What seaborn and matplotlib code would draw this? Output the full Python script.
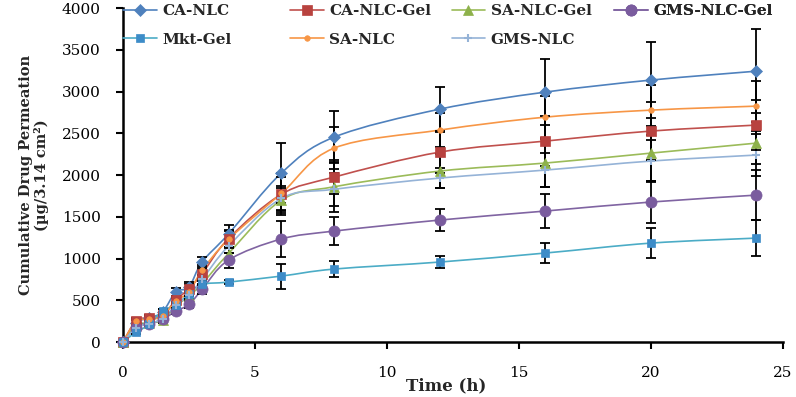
import numpy as np
import seaborn as sns
import matplotlib
matplotlib.use('Agg')
import matplotlib.pyplot as plt
from matplotlib.path import Path
from matplotlib.patches import PathPatch
from matplotlib.lines import Line2D

time_h = [0, 0.5, 1, 1.5, 2, 2.5, 3, 4, 6, 8, 12, 16, 20, 24]

ca_nlc = [0, 230, 290, 360, 600, 660, 960, 1295, 2024, 2455, 2790, 2994, 3138, 3245]
ca_nlc_err = [0, 30, 30, 30, 50, 60, 60, 105, 360, 310, 270, 400, 455, 500]
ca_nlc_gel = [0, 255, 290, 320, 500, 640, 820, 1240, 1770, 1976, 2275, 2407, 2527, 2599]
ca_nlc_gel_err = [0, 30, 30, 30, 40, 50, 60, 100, 250, 200, 250, 300, 350, 300]
sa_nlc_gel = [0, 200, 230, 260, 430, 550, 700, 1060, 1700, 1860, 2048, 2144, 2263, 2383]
sa_nlc_gel_err = [0, 25, 25, 30, 40, 40, 50, 80, 150, 300, 200, 290, 330, 250]
gms_nlc_gel = [0, 170, 220, 270, 370, 450, 630, 982, 1234, 1329, 1461, 1569, 1677, 1760]
gms_nlc_gel_err = [0, 20, 20, 30, 30, 40, 50, 90, 220, 170, 135, 200, 250, 300]
mkt_gel = [0, 120, 210, 375, 440, 580, 690, 718, 790, 874, 958, 1066, 1185, 1245]
mkt_gel_err = [0, 20, 20, 20, 30, 30, 40, 20, 150, 95, 75, 120, 180, 215]
sa_nlc = [0, 250, 270, 310, 490, 600, 860, 1230, 1780, 2323, 2539, 2694, 2778, 2826]
sa_nlc_err = [0, 30, 30, 30, 40, 50, 60, 100, 200, 250, 200, 250, 300, 300]
gms_nlc = [0, 170, 220, 280, 440, 560, 750, 1150, 1720, 1830, 1964, 2060, 2168, 2240]
gms_nlc_err = [0, 25, 25, 30, 40, 40, 50, 80, 150, 200, 120, 200, 250, 250]

# label, values, errors, line colour, marker, marker colour, marker size
series = [
    ('CA-NLC', ca_nlc, ca_nlc_err, '#4F81BD', 'D', '#4F81BD', 6.5),
    ('CA-NLC-Gel', ca_nlc_gel, ca_nlc_gel_err, '#C0504D', 's', '#B8423F', 7.5),
    ('SA-NLC-Gel', sa_nlc_gel, sa_nlc_gel_err, '#9BBB59', '^', '#8DB14A', 7.5),
    ('GMS-NLC-Gel', gms_nlc_gel, gms_nlc_gel_err, '#8064A2', 'o', '#7A5C9E', 8),
    ('Mkt-Gel', mkt_gel, mkt_gel_err, '#4BACC6', 's', '#3D8CC8', 6),
    ('SA-NLC', sa_nlc, sa_nlc_err, '#F79646', 'o', '#F79646', 4),
    ('GMS-NLC', gms_nlc, gms_nlc_err, '#95B3D7', '+', '#95B3D7', 6),
]

# legend columns as laid out in the picture (two rows)
legend_cols = [['CA-NLC', 'Mkt-Gel'], ['CA-NLC-Gel', 'SA-NLC'],
               ['SA-NLC-Gel', 'GMS-NLC'], ['GMS-NLC-Gel']]
legend_x = [0.0, 0.253, 0.498, 0.744]


def smooth_path(x, y):
    # excel style smoothed line: bezier segments through the points
    p = np.column_stack([x, y]).astype(float)
    n = len(p)
    verts = [p[0]]
    codes = [Path.MOVETO]
    for i in range(n - 1):
        p0 = p[max(i - 1, 0)]
        p3 = p[min(i + 2, n - 1)]
        c1 = p[i] + (p[i + 1] - p0) / 6.0
        c2 = p[i + 1] - (p3 - p[i]) / 6.0
        verts += [c1, c2, p[i + 1]]
        codes += [Path.CURVE4] * 3
    return Path(verts, codes)


sns.set_style('ticks')
plt.rcParams['font.family'] = ['DejaVu Serif']

fig = plt.figure(figsize=(7.96, 3.97), dpi=100)
ax = fig.add_axes([0.1545, 0.1385, 0.829, 0.841])

handles = {}
for label, vals, errs, lc, m, mc, ms in series:
    ax.add_patch(PathPatch(smooth_path(time_h, vals), facecolor='none',
                           edgecolor=lc, lw=1.2, zorder=2, clip_on=False))
    ax.errorbar(time_h, vals, yerr=errs, fmt='none', ecolor='black',
                elinewidth=1.3, capsize=3.5, capthick=1.3, zorder=3)
    mew = 1.5 if m == '+' else 0.5
    sns.lineplot(x=time_h, y=vals, marker=m, linestyle='', color=mc,
                 markersize=ms, markeredgecolor=mc, markeredgewidth=mew,
                 ax=ax, zorder=4, clip_on=False)
    handles[label] = Line2D([], [], color=lc, lw=1.2, marker=m, markersize=ms,
                            markerfacecolor=mc, markeredgecolor=mc,
                            markeredgewidth=mew)

for names, lx in zip(legend_cols, legend_x):
    leg = ax.legend([handles[k] for k in names], names, loc='upper left',
                    bbox_to_anchor=(lx, 1.012), frameon=False, borderpad=0,
                    borderaxespad=0, handlelength=2.2, handletextpad=0.35,
                    labelspacing=0.95,
                    prop={'family': 'DejaVu Serif', 'weight': 'bold', 'size': 11})
    ax.add_artist(leg)

ax.set_xlim(0, 25)
ax.set_ylim(0, 4000)
ax.set_xticks(range(0, 26, 5))
ax.set_yticks(range(0, 4001, 500))
ax.tick_params(axis='both', direction='out', length=5, width=1.5,
               labelsize=11, colors='black')
ax.tick_params(axis='y', pad=11)
ax.tick_params(axis='x', pad=12)
for side in ['top', 'right']:
    ax.spines[side].set_visible(False)
for side in ['left', 'bottom']:
    ax.spines[side].set_linewidth(1.8)
    ax.spines[side].set_color('black')

ax.set_xlabel('Time (h)', fontsize=12, fontweight='bold')
ax.xaxis.set_label_coords(0.49, -0.105)
ax.set_ylabel('Cumulative Drug Permeation\n(µg/3.14 cm²)', fontsize=10.5,
              fontweight='bold', linespacing=1.1)
ax.yaxis.set_label_coords(-0.112, 0.5)

fig.savefig('out.png', dpi=100)
